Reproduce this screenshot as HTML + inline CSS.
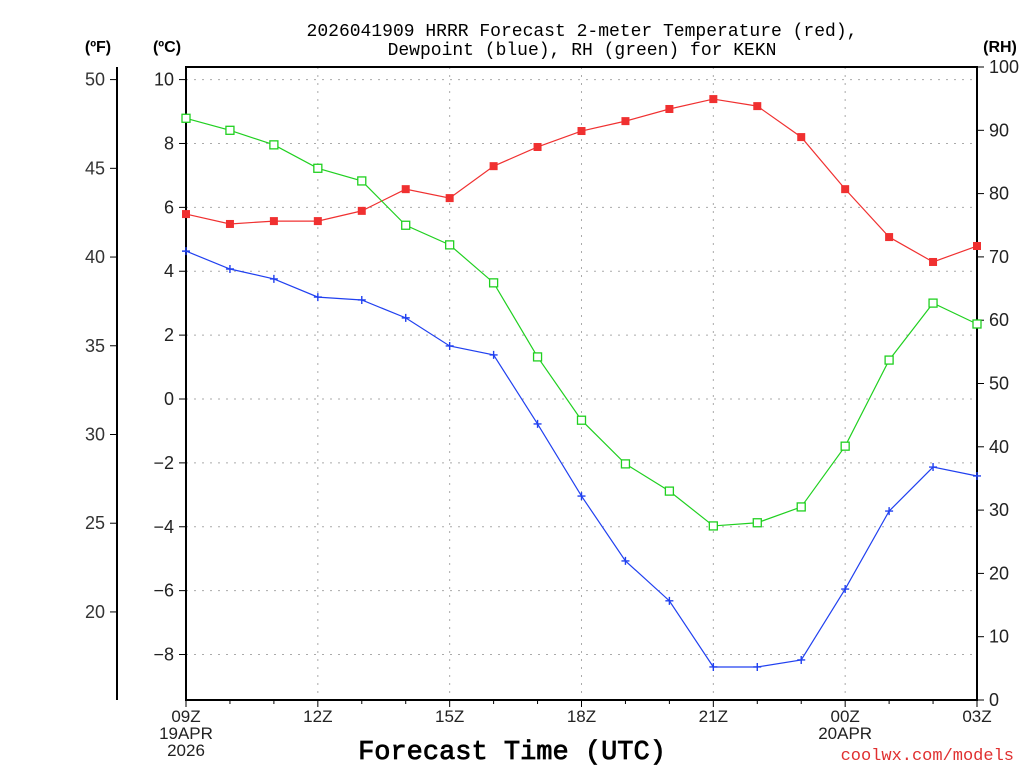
<!DOCTYPE html>
<html><head><meta charset="utf-8"><style>
html,body{margin:0;padding:0;background:#fff;}
svg{display:block;font-family:"Liberation Sans","DejaVu Sans",sans-serif;}
.mono{font-family:"Liberation Mono","DejaVu Sans Mono",monospace;}
</style></head><body>
<svg id="chart" width="1024" height="768" xmlns="http://www.w3.org/2000/svg">
<rect width="1024" height="768" fill="#fff"/>
<text class="mono" x="582" y="36" font-size="18" text-anchor="middle">2026041909 HRRR Forecast 2-meter Temperature (red),</text>
<text class="mono" x="582" y="55" font-size="18" text-anchor="middle">Dewpoint (blue), RH (green) for KEKN</text>
<text x="98" y="52" font-size="16" font-weight="bold" text-anchor="middle">(ºF)</text>
<text x="167" y="52" font-size="16" font-weight="bold" text-anchor="middle">(ºC)</text>
<text x="1000" y="52" font-size="16" font-weight="bold" text-anchor="middle">(RH)</text>
<g id="grid"></g><g id="axes"></g><g id="series"></g>
<text class="mono" x="512" y="759" font-size="27" stroke="#000" stroke-width="0.8" text-anchor="middle">Forecast Time (UTC)</text>
<text class="mono" x="1014" y="760" font-size="17" fill="#e03030" text-anchor="end">coolwx.com/models</text>
</svg>
<script>
const hours=["09Z","10Z","11Z","12Z","13Z","14Z","15Z","16Z","17Z","18Z","19Z","20Z","21Z","22Z","23Z","00Z","01Z","02Z","03Z"];
const tempC=[5.79,5.48,5.57,5.57,5.89,6.57,6.29,7.29,7.89,8.39,8.70,9.08,9.39,9.17,8.20,6.57,5.07,4.29,4.79];
const dewC=[4.63,4.07,3.76,3.19,3.10,2.54,1.66,1.38,-0.78,-3.04,-5.07,-6.32,-8.39,-8.39,-8.17,-5.95,-3.51,-2.13,-2.41];
const rh=[91.9,90.0,87.7,84.0,82.0,75.0,71.9,65.9,54.2,44.2,37.3,33.0,27.5,28.0,30.5,40.1,53.7,62.7,59.4];
const cTicks=[10,8,6,4,2,0,-2,-4,-6,-8];
const fTicks=[50,45,40,35,30,25,20];
const rhTicks=[0,10,20,30,40,50,60,70,80,90,100];
const xLabels=[{i:0,t:["09Z","19APR","2026"]},{i:3,t:["12Z"]},{i:6,t:["15Z"]},{i:9,t:["18Z"]},{i:12,t:["21Z"]},{i:15,t:["00Z","20APR"]},{i:18,t:["03Z"]}];
const L=186,R=977,T=67,B=700;
const x=i=>L+(R-L)*i/(hours.length-1);
const yC=c=>399-c*31.94;
const yF=f=>yC((f-32)*5/9);
const yR=r=>B-(B-T)*r/100;
const NS="http://www.w3.org/2000/svg";
function mk(p,tag,a){const e=document.createElementNS(NS,tag);for(const k in a)e.setAttribute(k,a[k]);p.appendChild(e);return e;}
const grid=document.getElementById('grid'),axes=document.getElementById('axes'),ser=document.getElementById('series');
cTicks.forEach(c=>{
 const g=mk(grid,'line',{x1:L,x2:R,y1:yC(c),y2:yC(c),stroke:'#aaa','stroke-dasharray':'2,6'});
 
 
 mk(axes,'line',{x1:L-7,x2:L,y1:yC(c),y2:yC(c),stroke:'#000'});
 const t=mk(axes,'text',{x:L-12,y:yC(c)+6,'font-size':18,'text-anchor':'end',fill:'#222'});t.textContent=c<0?'\u2212'+(-c):c;
 
 
});
for(let i=3;i<hours.length-1;i+=3){
 const g=mk(grid,'line',{x1:x(i),x2:x(i),y1:T,y2:B,stroke:'#aaa','stroke-dasharray':'2,6'});
 
 
}
mk(axes,'rect',{x:L,y:T,width:R-L,height:B-T,fill:'none',stroke:'#000','stroke-width':2});
mk(axes,'line',{x1:117,x2:117,y1:67,y2:B,stroke:'#000','stroke-width':2});
fTicks.forEach(f=>{
 mk(axes,'line',{x1:110,x2:117,y1:yF(f),y2:yF(f),stroke:'#000'});
 const t=mk(axes,'text',{x:105,y:yF(f)+6,'font-size':18,'text-anchor':'end',fill:'#333'});t.textContent=f;
 
 
});
rhTicks.forEach(r=>{
 mk(axes,'line',{x1:R,x2:R+7,y1:yR(r),y2:yR(r),stroke:'#000'});
 const t=mk(axes,'text',{x:R+12,y:yR(r)+6,'font-size':18,fill:'#222'});t.textContent=r;
 
 
});
for(let i=0;i<hours.length;i++) mk(axes,'line',{x1:x(i),x2:x(i),y1:B,y2:B+(i%3==0?7:4),stroke:'#000'});
xLabels.forEach(o=>{o.t.forEach((s,k)=>{
 const t=mk(axes,'text',{x:x(o.i),y:722+k*17,'font-size':17,'text-anchor':'middle',fill:'#222'});t.textContent=s;
 
 
});});
function line(vals,yf,color,name){
 const pts=vals.map((v,i)=>x(i)+','+yf(v)).join(' ');
 const p=mk(ser,'polyline',{points:pts,fill:'none',stroke:color,'stroke-width':1.2});
 
 
}
line(tempC,yC,'#f03030','temperature-line');
line(dewC,yC,'#2040f0','dewpoint-line');
line(rh,yR,'#20d020','rh-line');
tempC.forEach((v,i)=>{const m=mk(ser,'rect',{x:x(i)-4,y:yC(v)-4,width:8,height:8,fill:'#f03030'});
 
 });
dewC.forEach((v,i)=>{const m=mk(ser,'path',{d:`M${x(i)-4},${yC(v)}h8M${x(i)},${yC(v)-4}v8`,stroke:'#2040f0','stroke-width':1.4});
 
 });
rh.forEach((v,i)=>{const m=mk(ser,'rect',{x:x(i)-4,y:yR(v)-4,width:8,height:8,fill:'#fff',stroke:'#20d020','stroke-width':1.3});
 
 });
</script>
</body></html>
